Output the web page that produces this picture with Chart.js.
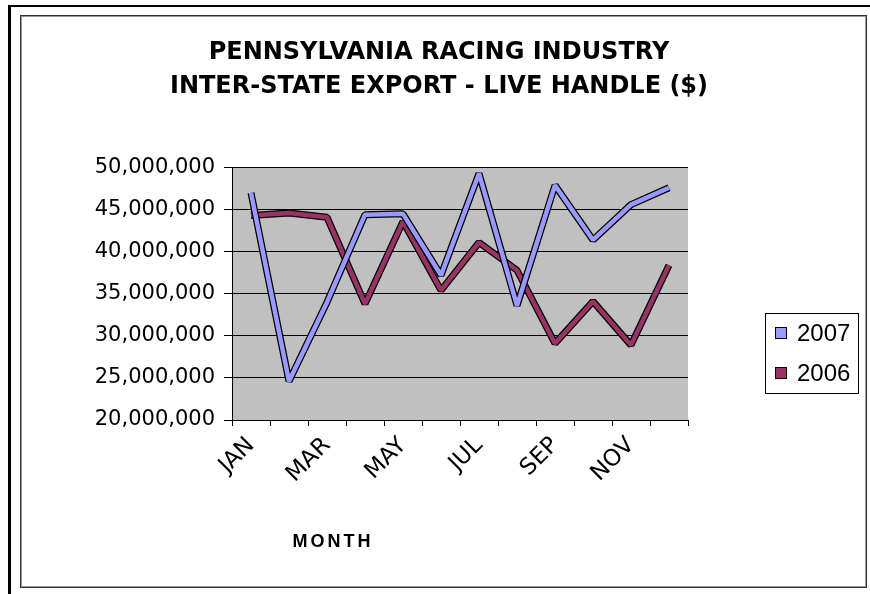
<!DOCTYPE html>
<html>
<head>
<meta charset="utf-8">
<script src="https://cdn.jsdelivr.net/npm/chart.js@4"></script>
<style>
  body { margin: 0; background: #fff; }
  #wrap { width: 870px; height: 594px; }
</style>
</head>
<body>
<div id="wrap"><canvas id="handleChart" width="870" height="594"></canvas></div>
<script>
// months on the x axis
const months = ['JAN', 'FEB', 'MAR', 'APR', 'MAY', 'JUN', 'JUL', 'AUG', 'SEP', 'OCT', 'NOV', 'DEC'];
// live handle in dollars
const handle2007 = [47000000, 24600000, 34000000, 44400000, 44500000, 37200000, 49300000, 33600000, 47900000, 41400000, 45600000, 47600000];
const handle2006 = [44300000, 44600000, 44100000, 33800000, 43600000, 35400000, 41100000, 37800000, 29100000, 34100000, 28900000, 38400000];
// y axis range
const yMin = 20000000;
const yMax = 50000000;
const yStep = 5000000;

const color2007 = '#9999FF';
const color2006 = '#993366';

// frame, gray plot background, legend box and axis title
const decorPlugin = {
    id: 'decor',
    beforeDraw(chart) {
        const c = chart.ctx;
        const a = chart.chartArea;
        c.save();
        c.fillStyle = '#C0C0C0';
        c.fillRect(a.left, a.top, a.right - a.left, a.bottom - a.top);
        // outer frame
        c.fillStyle = '#000';
        c.fillRect(8, 5, 862, 2);
        c.fillRect(8, 5, 3, 589);
        // inner frame
        c.strokeStyle = '#333';
        c.lineWidth = 1;
        c.strokeRect(20.5, 15.5, 846, 572);
        c.strokeStyle = '#999';
        c.strokeRect(21.5, 16.5, 844, 570);
        c.restore();
    },
    afterDraw(chart) {
        const c = chart.ctx;
        c.save();
        // legend
        c.fillStyle = '#fff';
        c.fillRect(765, 313, 93, 80);
        c.strokeStyle = '#000';
        c.lineWidth = 1;
        c.strokeRect(765.5, 313.5, 93, 80);
        const items = chart.data.datasets.filter(d => !d.outline).sort((p, q) => p.order - q.order);
        items.forEach((d, i) => {
            const y = 333 + i * 40;
            c.fillStyle = d.borderColor;
            c.fillRect(775, y - 6, 12, 12);
            c.strokeStyle = '#000';
            c.strokeRect(775.5, y - 5.5, 11, 11);
            c.fillStyle = '#000';
            c.font = '24px "Liberation Sans", Arial, sans-serif';
            c.textBaseline = 'middle';
            c.textAlign = 'left';
            c.fillText(d.label, 797, y + 1);
        });
        // x axis title
        c.font = 'bold 18px "Liberation Sans", Arial, sans-serif';
        c.letterSpacing = '3px';
        c.textAlign = 'center';
        c.textBaseline = 'middle';
        c.fillText('MONTH', 333, 542);
        c.restore();
    }
};

const ctx = document.getElementById('handleChart').getContext('2d');
const handleChart = new Chart(ctx, {
    type: 'line',
    data: {
        labels: months,
        datasets: [
            { label: '2006 outline', outline: true, data: handle2006, borderColor: '#000', borderWidth: 7, order: 4 },
            { label: '2006', data: handle2006, borderColor: color2006, backgroundColor: color2006, borderWidth: 4.5, order: 3 },
            { label: '2007 outline', outline: true, data: handle2007, borderColor: '#000', borderWidth: 7, order: 2 },
            { label: '2007', data: handle2007, borderColor: color2007, backgroundColor: color2007, borderWidth: 4.5, order: 1 }
        ]
    },
    options: {
        responsive: false,
        animation: false,
        devicePixelRatio: 1,
        layout: { padding: { left: 20, right: 12, top: 15, bottom: 0 } },
        elements: {
            point: { radius: 0, hoverRadius: 0 },
            line: { tension: 0, borderJoinStyle: 'bevel', borderCapStyle: 'butt', fill: false }
        },
        plugins: {
            legend: { display: false },
            tooltip: { enabled: false },
            title: {
                display: true,
                text: ['PENNSYLVANIA RACING INDUSTRY', 'INTER-STATE EXPORT - LIVE HANDLE ($)'],
                color: '#000',
                font: { family: '"DejaVu Sans", sans-serif', size: 24, weight: 'bold', lineHeight: 1.45 },
                padding: { top: 20, bottom: 63 }
            }
        },
        scales: {
            x: {
                offset: true,
                grid: { offset: true, drawOnChartArea: false, drawTicks: true, tickLength: 6, color: '#000' },
                border: { display: true, color: '#000' },
                ticks: {
                    autoSkip: false,
                    maxRotation: 45,
                    minRotation: 45,
                    padding: 6,
                    color: '#000',
                    font: { family: '"DejaVu Sans", sans-serif', size: 23 },
                    callback: (v, i) => (i % 2 === 0 ? months[i] : '')
                },
                afterFit: s => { s.height = 174; }
            },
            y: {
                min: yMin,
                max: yMax,
                grid: { color: '#000', lineWidth: 1, tickLength: 8 },
                border: { display: true, color: '#000' },
                ticks: {
                    stepSize: yStep,
                    padding: 9,
                    color: '#000',
                    font: { family: '"DejaVu Sans", sans-serif', size: 21 },
                    callback: v => v.toLocaleString('en-US')
                },
                afterFit: s => { s.width = 212; }
            },
            gap: {
                type: 'linear',
                position: 'right',
                display: true,
                grid: { drawOnChartArea: false, drawTicks: false },
                border: { display: false },
                ticks: { display: false },
                afterFit: s => { s.width = 170; }
            }
        }
    },
    plugins: [decorPlugin]
});
</script>
</body>
</html>
